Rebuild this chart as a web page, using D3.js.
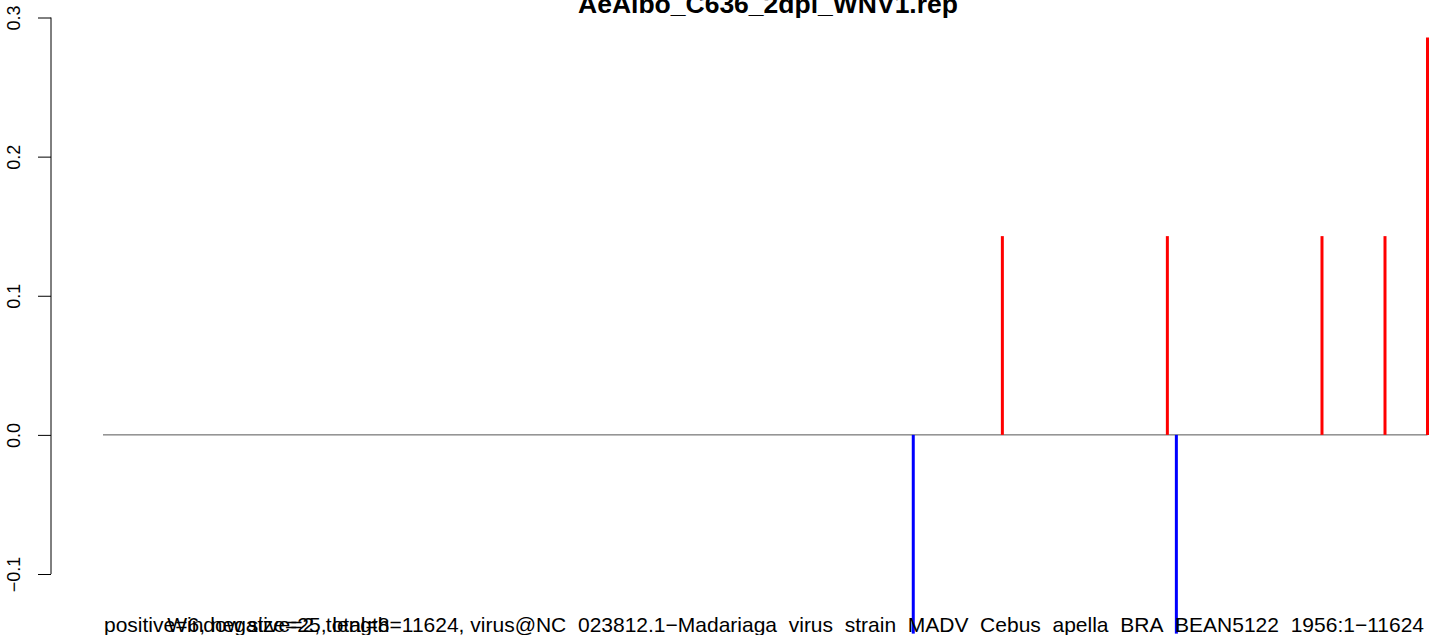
<!DOCTYPE html>
<html>
<head>
<meta charset="utf-8">
<script src="https://cdn.jsdelivr.net/npm/d3@7"></script>
<style>
  html, body { margin: 0; padding: 0; background: #fff; overflow: hidden; }
  svg { display: block; font-family: "Liberation Sans", Arial, Helvetica, sans-serif; }
</style>
</head>
<body>
<svg id="chart" width="1429" height="635"></svg>
<script>
// ---- data ----
const title = "AeAlbo_C636_2dpi_WNV1.rep";
const genomeLength = 11624;
const positivePositions = [7893, 9341, 10698, 11251, 11624];
const positiveValues    = [1/7, 1/7, 1/7, 1/7, 2/7];
const negativePositions = [7111, 9420];
const negativeValues    = [-1/7, -1/7];
const yTicks = [-0.1, 0.0, 0.1, 0.2, 0.3];
const yTickLabels = ["\u22120.1", "0.0", "0.1", "0.2", "0.3"];
const footerLeft = "positive=6, negative=2, total=8";
const footerRight = "Window size=25, length=11624, virus@NC_023812.1\u2212Madariaga_virus_strain_MADV_Cebus_apella_BRA_BEAN5122_1956:1\u221211624";

// ---- chart ----
const svg = d3.select("#chart");
const x = d3.scaleLinear().domain([0, genomeLength]).range([103, 1427.5]);
const y = d3.scaleLinear().domain([-0.1, 0.3]).range([574, 17.5]);

// baseline
svg.append("line")
  .attr("x1", x(0)).attr("x2", x(genomeLength))
  .attr("y1", y(0)).attr("y2", y(0))
  .attr("stroke", "#555").attr("stroke-width", 1);

const pos = positivePositions.map((p, i) => ({p, v: positiveValues[i]}));
const neg = negativePositions.map((p, i) => ({p, v: negativeValues[i]}));

svg.append("g").selectAll("line").data(pos).join("line")
  .attr("x1", d => x(d.p)).attr("x2", d => x(d.p))
  .attr("y1", y(0)).attr("y2", d => y(d.v))
  .attr("stroke", "#ff0000").attr("stroke-width", 3);

svg.append("g").selectAll("line").data(neg).join("line")
  .attr("x1", d => x(d.p)).attr("x2", d => x(d.p))
  .attr("y1", y(0)).attr("y2", d => y(d.v))
  .attr("stroke", "#0000ff").attr("stroke-width", 3);

// y axis
const yAxis = d3.axisLeft(y).tickValues(yTicks).tickSize(13)
  .tickFormat((d, i) => yTickLabels[i]);
const gy = svg.append("g").attr("transform", "translate(51,0)").call(yAxis);
gy.select(".domain").attr("stroke", "#000").attr("stroke-width", 1)
  .attr("d", `M0,${y(-0.1)}V${y(0.3)}`);
gy.selectAll(".tick line").attr("stroke", "#000");
gy.selectAll(".tick text")
  .attr("font-size", 18).attr("fill", "#000")
  .attr("x", 0).attr("dy", 0)
  .attr("text-anchor", "middle")
  .attr("transform", "translate(-31,0) rotate(-90)");

// title
svg.append("text")
  .attr("x", 768).attr("y", 13)
  .attr("text-anchor", "middle")
  .attr("font-weight", "bold").attr("font-size", 26.5)
  .text(title);

// footer texts (overlapping as in reference)
svg.append("text")
  .attr("x", 104).attr("y", 632)
  .attr("font-size", 21)
  .text(footerLeft);
svg.append("text")
  .attr("x", 1424).attr("y", 632)
  .attr("text-anchor", "end")
  .attr("font-size", 21)
  .text(footerRight);
</script>
</body>
</html>
